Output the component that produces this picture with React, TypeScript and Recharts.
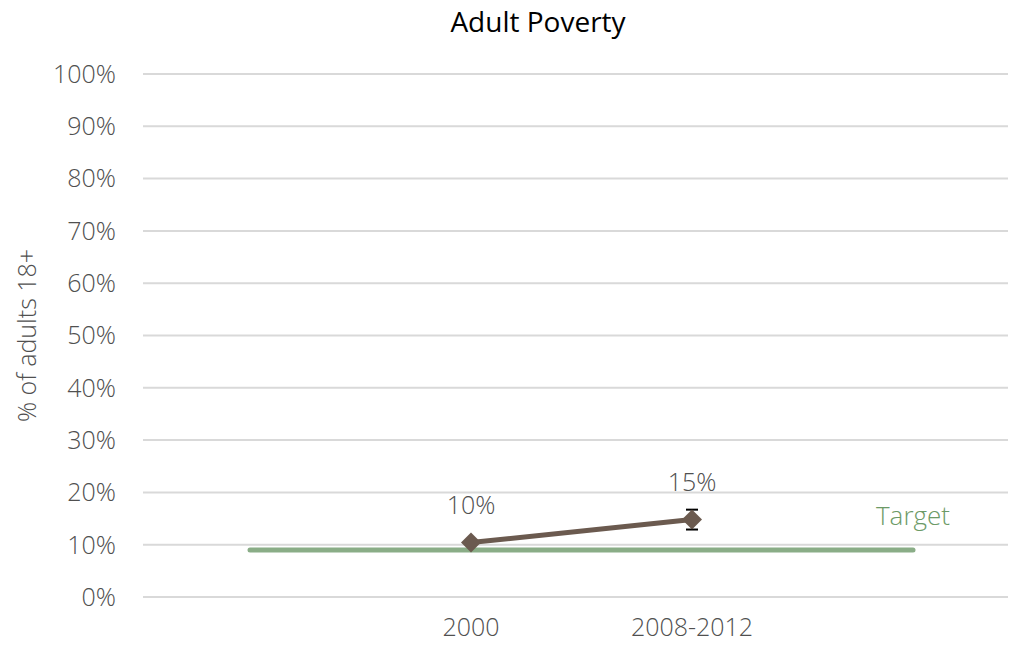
import { LineChart, Line, XAxis, YAxis, CartesianGrid, LabelList, ErrorBar } from "recharts";

const categories = ["", "2000", "2008-2012", " "];
const poverty = [null, 10.4, 14.8, null];
const povertyError = [null, null, 1.9, null];
const target = [9, 9, 9, 9];
const yTicks = [0, 10, 20, 30, 40, 50, 60, 70, 80, 90, 100];

const data = categories.map((cat, i) => ({
  cat,
  value: poverty[i],
  err: povertyError[i],
  target: target[i],
}));

const FONT = "'Open Sans', sans-serif";
const GREY = "#505050";

const Diamond = (props: any) => {
  const { cx, cy, index } = props;
  if (cx == null || cy == null || props.value == null) return <g key={index} />;
  const r = 10;
  return (
    <path
      key={index}
      d={`M${cx},${cy - r} L${cx + r},${cy} L${cx},${cy + r} L${cx - r},${cy} Z`}
      fill="#6b5a4f"
    />
  );
};

const TargetLabel = (props: any) => {
  const { x, y, index } = props;
  if (index !== categories.length - 1) return null;
  return (
    <text x={x} y={y - 35} textAnchor="middle" dominantBaseline="central" fill="#6c9a66" fontSize={26} fontWeight={300} fontFamily={FONT}>
      Target
    </text>
  );
};

export default function App() {
  return (
    <div style={{ position: "absolute", left: 0, top: 0, width: 1010, height: 645, background: "#fff", fontFamily: FONT }}>
      <div style={{ position: "absolute", left: 0, width: 1076, top: 2, textAlign: "center", fontSize: 28, color: "#000" }}>
        Adult Poverty
      </div>
      <LineChart width={1010} height={645} data={data} margin={{ top: 74, right: 2, left: 0, bottom: 0 }}>
        <CartesianGrid vertical={false} stroke="#d9d9d9" strokeWidth={2} />
        <XAxis
          dataKey="cat"
          scale="point"
          padding={{ left: 107, right: 95 }}
          axisLine={false}
          tickLine={false}
          height={48}
          tickMargin={15}
          tick={{ fill: GREY, fontSize: 25, fontWeight: 300, fontFamily: FONT }}
        />
        <YAxis
          domain={[0, 100]}
          ticks={yTicks}
          tickFormatter={(v) => `${v}%`}
          axisLine={false}
          tickLine={false}
          width={143}
          tickMargin={21}
          tick={{ fill: GREY, fontSize: 25, fontWeight: 300, fontFamily: FONT }}
          label={{
            value: "% of adults 18+",
            angle: -90,
            position: "insideLeft",
            offset: 27,
            textAnchor: "middle",
            fill: GREY,
            fontSize: 25,
            fontWeight: 300,
            fontFamily: FONT,
          }}
        />
        <Line
          dataKey="target"
          stroke="#8aad87"
          strokeWidth={5}
          strokeLinecap="round"
          dot={false}
          isAnimationActive={false}
        >
          <LabelList dataKey="target" content={TargetLabel} />
        </Line>
        <Line
          dataKey="value"
          stroke="#6b5a4f"
          strokeWidth={5}
          dot={Diamond}
          activeDot={false}
          isAnimationActive={false}
        >
          <ErrorBar dataKey="err" width={6} stroke="#000" strokeWidth={2} direction="y" />
          <LabelList
            dataKey="value"
            position="top"
            offset={29}
            formatter={(v: any) => (v == null ? "" : `${Math.round(v)}%`)}
            fill={GREY}
            fontSize={25}
            fontWeight={300}
            fontFamily={FONT}
          />
        </Line>
      </LineChart>
    </div>
  );
}
